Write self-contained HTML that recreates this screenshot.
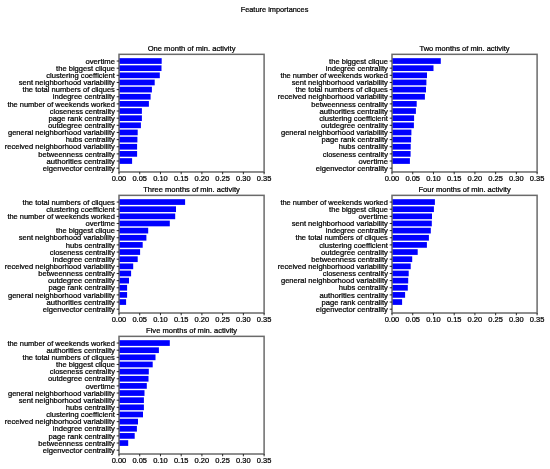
<!DOCTYPE html><html><head><meta charset="utf-8"><style>html,body{margin:0;padding:0;background:#fff;}svg{display:block;will-change:transform;}text{stroke:#000;stroke-width:0.22px;font-family:"Liberation Sans",sans-serif;fill:#000;}</style></head><body>
<svg width="550" height="469" viewBox="0 0 550 469">
<rect width="550" height="469" fill="#fff"/>
<text x="274.5" y="11.8" font-size="7" text-anchor="middle" textLength="67.67" lengthAdjust="spacingAndGlyphs">Feature importances</text>
<rect x="119" y="58.17" width="42.7" height="5.71" fill="#0000ff"/>
<rect x="119" y="65.32" width="42.5" height="5.71" fill="#0000ff"/>
<rect x="119" y="72.46" width="40.8" height="5.71" fill="#0000ff"/>
<rect x="119" y="79.6" width="35.7" height="5.71" fill="#0000ff"/>
<rect x="119" y="86.74" width="32.9" height="5.71" fill="#0000ff"/>
<rect x="119" y="93.89" width="31.6" height="5.71" fill="#0000ff"/>
<rect x="119" y="101.03" width="29.9" height="5.71" fill="#0000ff"/>
<rect x="119" y="108.17" width="22.9" height="5.71" fill="#0000ff"/>
<rect x="119" y="115.32" width="22.9" height="5.71" fill="#0000ff"/>
<rect x="119" y="122.46" width="21.9" height="5.71" fill="#0000ff"/>
<rect x="119" y="129.6" width="18.7" height="5.71" fill="#0000ff"/>
<rect x="119" y="136.75" width="18.4" height="5.71" fill="#0000ff"/>
<rect x="119" y="143.89" width="18.1" height="5.71" fill="#0000ff"/>
<rect x="119" y="151.03" width="18.1" height="5.71" fill="#0000ff"/>
<rect x="119" y="158.17" width="13.1" height="5.71" fill="#0000ff"/>
<rect x="119" y="54.33" width="145.1" height="117.65" fill="none" stroke="#6a6a6a" stroke-width="1.5"/>
<line x1="116.7" y1="61.03" x2="119" y2="61.03" stroke="#111" stroke-width="0.9"/>
<text x="114.9" y="63.73" font-size="7" text-anchor="end" textLength="29.4" lengthAdjust="spacingAndGlyphs">overtime</text>
<line x1="116.7" y1="68.17" x2="119" y2="68.17" stroke="#111" stroke-width="0.9"/>
<text x="114.9" y="70.87" font-size="7" text-anchor="end" textLength="58.8" lengthAdjust="spacingAndGlyphs">the biggest clique</text>
<line x1="116.7" y1="75.32" x2="119" y2="75.32" stroke="#111" stroke-width="0.9"/>
<text x="114.9" y="78.02" font-size="7" text-anchor="end" textLength="68.63" lengthAdjust="spacingAndGlyphs">clustering coefficient</text>
<line x1="116.7" y1="82.46" x2="119" y2="82.46" stroke="#111" stroke-width="0.9"/>
<text x="114.9" y="85.16" font-size="7" text-anchor="end" textLength="96.18" lengthAdjust="spacingAndGlyphs">sent neighborhood variability</text>
<line x1="116.7" y1="89.6" x2="119" y2="89.6" stroke="#111" stroke-width="0.9"/>
<text x="114.9" y="92.3" font-size="7" text-anchor="end" textLength="92.34" lengthAdjust="spacingAndGlyphs">the total numbers of cliques</text>
<line x1="116.7" y1="96.75" x2="119" y2="96.75" stroke="#111" stroke-width="0.9"/>
<text x="114.9" y="99.45" font-size="7" text-anchor="end" textLength="62.15" lengthAdjust="spacingAndGlyphs">indegree centrality</text>
<line x1="116.7" y1="103.89" x2="119" y2="103.89" stroke="#111" stroke-width="0.9"/>
<text x="114.9" y="106.59" font-size="7" text-anchor="end" textLength="107.49" lengthAdjust="spacingAndGlyphs">the number of weekends worked</text>
<line x1="116.7" y1="111.03" x2="119" y2="111.03" stroke="#111" stroke-width="0.9"/>
<text x="114.9" y="113.73" font-size="7" text-anchor="end" textLength="65.1" lengthAdjust="spacingAndGlyphs">closeness centrality</text>
<line x1="116.7" y1="118.17" x2="119" y2="118.17" stroke="#111" stroke-width="0.9"/>
<text x="114.9" y="120.87" font-size="7" text-anchor="end" textLength="66.32" lengthAdjust="spacingAndGlyphs">page rank centrality</text>
<line x1="116.7" y1="125.32" x2="119" y2="125.32" stroke="#111" stroke-width="0.9"/>
<text x="114.9" y="128.02" font-size="7" text-anchor="end" textLength="66.9" lengthAdjust="spacingAndGlyphs">outdegree centrality</text>
<line x1="116.7" y1="132.46" x2="119" y2="132.46" stroke="#111" stroke-width="0.9"/>
<text x="114.9" y="135.16" font-size="7" text-anchor="end" textLength="106.91" lengthAdjust="spacingAndGlyphs">general neighborhood variability</text>
<line x1="116.7" y1="139.6" x2="119" y2="139.6" stroke="#111" stroke-width="0.9"/>
<text x="114.9" y="142.3" font-size="7" text-anchor="end" textLength="49.1" lengthAdjust="spacingAndGlyphs">hubs centrality</text>
<line x1="116.7" y1="146.75" x2="119" y2="146.75" stroke="#111" stroke-width="0.9"/>
<text x="114.9" y="149.45" font-size="7" text-anchor="end" textLength="110.11" lengthAdjust="spacingAndGlyphs">received neighborhood variability</text>
<line x1="116.7" y1="153.89" x2="119" y2="153.89" stroke="#111" stroke-width="0.9"/>
<text x="114.9" y="156.59" font-size="7" text-anchor="end" textLength="76.55" lengthAdjust="spacingAndGlyphs">betweenness centrality</text>
<line x1="116.7" y1="161.03" x2="119" y2="161.03" stroke="#111" stroke-width="0.9"/>
<text x="114.9" y="163.73" font-size="7" text-anchor="end" textLength="68.46" lengthAdjust="spacingAndGlyphs">authorities centrality</text>
<line x1="116.7" y1="168.18" x2="119" y2="168.18" stroke="#111" stroke-width="0.9"/>
<text x="114.9" y="170.88" font-size="7" text-anchor="end" textLength="72.19" lengthAdjust="spacingAndGlyphs">eigenvector centrality</text>
<line x1="119" y1="171.98" x2="119" y2="174.28" stroke="#111" stroke-width="0.9"/>
<text x="119" y="180.98" font-size="7" text-anchor="middle" textLength="14.58" lengthAdjust="spacingAndGlyphs">0.00</text>
<line x1="139.73" y1="171.98" x2="139.73" y2="174.28" stroke="#111" stroke-width="0.9"/>
<text x="139.73" y="180.98" font-size="7" text-anchor="middle" textLength="14.58" lengthAdjust="spacingAndGlyphs">0.05</text>
<line x1="160.46" y1="171.98" x2="160.46" y2="174.28" stroke="#111" stroke-width="0.9"/>
<text x="160.46" y="180.98" font-size="7" text-anchor="middle" textLength="14.58" lengthAdjust="spacingAndGlyphs">0.10</text>
<line x1="181.19" y1="171.98" x2="181.19" y2="174.28" stroke="#111" stroke-width="0.9"/>
<text x="181.19" y="180.98" font-size="7" text-anchor="middle" textLength="14.58" lengthAdjust="spacingAndGlyphs">0.15</text>
<line x1="201.91" y1="171.98" x2="201.91" y2="174.28" stroke="#111" stroke-width="0.9"/>
<text x="201.91" y="180.98" font-size="7" text-anchor="middle" textLength="14.58" lengthAdjust="spacingAndGlyphs">0.20</text>
<line x1="222.64" y1="171.98" x2="222.64" y2="174.28" stroke="#111" stroke-width="0.9"/>
<text x="222.64" y="180.98" font-size="7" text-anchor="middle" textLength="14.58" lengthAdjust="spacingAndGlyphs">0.25</text>
<line x1="243.37" y1="171.98" x2="243.37" y2="174.28" stroke="#111" stroke-width="0.9"/>
<text x="243.37" y="180.98" font-size="7" text-anchor="middle" textLength="14.58" lengthAdjust="spacingAndGlyphs">0.30</text>
<line x1="264.1" y1="171.98" x2="264.1" y2="174.28" stroke="#111" stroke-width="0.9"/>
<text x="264.1" y="180.98" font-size="7" text-anchor="middle" textLength="14.58" lengthAdjust="spacingAndGlyphs">0.35</text>
<text x="191.55" y="51.13" font-size="7" text-anchor="middle" textLength="87.81" lengthAdjust="spacingAndGlyphs">One month of min. activity</text>
<rect x="392" y="58.17" width="48.8" height="5.71" fill="#0000ff"/>
<rect x="392" y="65.32" width="41.5" height="5.71" fill="#0000ff"/>
<rect x="392" y="72.46" width="35" height="5.71" fill="#0000ff"/>
<rect x="392" y="79.6" width="34.4" height="5.71" fill="#0000ff"/>
<rect x="392" y="86.74" width="34" height="5.71" fill="#0000ff"/>
<rect x="392" y="93.89" width="32.9" height="5.71" fill="#0000ff"/>
<rect x="392" y="101.03" width="24.7" height="5.71" fill="#0000ff"/>
<rect x="392" y="108.17" width="23.9" height="5.71" fill="#0000ff"/>
<rect x="392" y="115.32" width="22.1" height="5.71" fill="#0000ff"/>
<rect x="392" y="122.46" width="21.9" height="5.71" fill="#0000ff"/>
<rect x="392" y="129.6" width="19.4" height="5.71" fill="#0000ff"/>
<rect x="392" y="136.75" width="19.1" height="5.71" fill="#0000ff"/>
<rect x="392" y="143.89" width="18.7" height="5.71" fill="#0000ff"/>
<rect x="392" y="151.03" width="18.6" height="5.71" fill="#0000ff"/>
<rect x="392" y="158.17" width="17.9" height="5.71" fill="#0000ff"/>
<rect x="392" y="54.33" width="145.1" height="117.65" fill="none" stroke="#6a6a6a" stroke-width="1.5"/>
<line x1="389.7" y1="61.03" x2="392" y2="61.03" stroke="#111" stroke-width="0.9"/>
<text x="387.9" y="63.73" font-size="7" text-anchor="end" textLength="58.8" lengthAdjust="spacingAndGlyphs">the biggest clique</text>
<line x1="389.7" y1="68.17" x2="392" y2="68.17" stroke="#111" stroke-width="0.9"/>
<text x="387.9" y="70.87" font-size="7" text-anchor="end" textLength="62.15" lengthAdjust="spacingAndGlyphs">indegree centrality</text>
<line x1="389.7" y1="75.32" x2="392" y2="75.32" stroke="#111" stroke-width="0.9"/>
<text x="387.9" y="78.02" font-size="7" text-anchor="end" textLength="107.49" lengthAdjust="spacingAndGlyphs">the number of weekends worked</text>
<line x1="389.7" y1="82.46" x2="392" y2="82.46" stroke="#111" stroke-width="0.9"/>
<text x="387.9" y="85.16" font-size="7" text-anchor="end" textLength="96.18" lengthAdjust="spacingAndGlyphs">sent neighborhood variability</text>
<line x1="389.7" y1="89.6" x2="392" y2="89.6" stroke="#111" stroke-width="0.9"/>
<text x="387.9" y="92.3" font-size="7" text-anchor="end" textLength="92.34" lengthAdjust="spacingAndGlyphs">the total numbers of cliques</text>
<line x1="389.7" y1="96.75" x2="392" y2="96.75" stroke="#111" stroke-width="0.9"/>
<text x="387.9" y="99.45" font-size="7" text-anchor="end" textLength="110.11" lengthAdjust="spacingAndGlyphs">received neighborhood variability</text>
<line x1="389.7" y1="103.89" x2="392" y2="103.89" stroke="#111" stroke-width="0.9"/>
<text x="387.9" y="106.59" font-size="7" text-anchor="end" textLength="76.55" lengthAdjust="spacingAndGlyphs">betweenness centrality</text>
<line x1="389.7" y1="111.03" x2="392" y2="111.03" stroke="#111" stroke-width="0.9"/>
<text x="387.9" y="113.73" font-size="7" text-anchor="end" textLength="68.46" lengthAdjust="spacingAndGlyphs">authorities centrality</text>
<line x1="389.7" y1="118.17" x2="392" y2="118.17" stroke="#111" stroke-width="0.9"/>
<text x="387.9" y="120.87" font-size="7" text-anchor="end" textLength="68.63" lengthAdjust="spacingAndGlyphs">clustering coefficient</text>
<line x1="389.7" y1="125.32" x2="392" y2="125.32" stroke="#111" stroke-width="0.9"/>
<text x="387.9" y="128.02" font-size="7" text-anchor="end" textLength="66.9" lengthAdjust="spacingAndGlyphs">outdegree centrality</text>
<line x1="389.7" y1="132.46" x2="392" y2="132.46" stroke="#111" stroke-width="0.9"/>
<text x="387.9" y="135.16" font-size="7" text-anchor="end" textLength="106.91" lengthAdjust="spacingAndGlyphs">general neighborhood variability</text>
<line x1="389.7" y1="139.6" x2="392" y2="139.6" stroke="#111" stroke-width="0.9"/>
<text x="387.9" y="142.3" font-size="7" text-anchor="end" textLength="66.32" lengthAdjust="spacingAndGlyphs">page rank centrality</text>
<line x1="389.7" y1="146.75" x2="392" y2="146.75" stroke="#111" stroke-width="0.9"/>
<text x="387.9" y="149.45" font-size="7" text-anchor="end" textLength="49.1" lengthAdjust="spacingAndGlyphs">hubs centrality</text>
<line x1="389.7" y1="153.89" x2="392" y2="153.89" stroke="#111" stroke-width="0.9"/>
<text x="387.9" y="156.59" font-size="7" text-anchor="end" textLength="65.1" lengthAdjust="spacingAndGlyphs">closeness centrality</text>
<line x1="389.7" y1="161.03" x2="392" y2="161.03" stroke="#111" stroke-width="0.9"/>
<text x="387.9" y="163.73" font-size="7" text-anchor="end" textLength="29.4" lengthAdjust="spacingAndGlyphs">overtime</text>
<line x1="389.7" y1="168.18" x2="392" y2="168.18" stroke="#111" stroke-width="0.9"/>
<text x="387.9" y="170.88" font-size="7" text-anchor="end" textLength="72.19" lengthAdjust="spacingAndGlyphs">eigenvector centrality</text>
<line x1="392" y1="171.98" x2="392" y2="174.28" stroke="#111" stroke-width="0.9"/>
<text x="392" y="180.98" font-size="7" text-anchor="middle" textLength="14.58" lengthAdjust="spacingAndGlyphs">0.00</text>
<line x1="412.73" y1="171.98" x2="412.73" y2="174.28" stroke="#111" stroke-width="0.9"/>
<text x="412.73" y="180.98" font-size="7" text-anchor="middle" textLength="14.58" lengthAdjust="spacingAndGlyphs">0.05</text>
<line x1="433.46" y1="171.98" x2="433.46" y2="174.28" stroke="#111" stroke-width="0.9"/>
<text x="433.46" y="180.98" font-size="7" text-anchor="middle" textLength="14.58" lengthAdjust="spacingAndGlyphs">0.10</text>
<line x1="454.19" y1="171.98" x2="454.19" y2="174.28" stroke="#111" stroke-width="0.9"/>
<text x="454.19" y="180.98" font-size="7" text-anchor="middle" textLength="14.58" lengthAdjust="spacingAndGlyphs">0.15</text>
<line x1="474.91" y1="171.98" x2="474.91" y2="174.28" stroke="#111" stroke-width="0.9"/>
<text x="474.91" y="180.98" font-size="7" text-anchor="middle" textLength="14.58" lengthAdjust="spacingAndGlyphs">0.20</text>
<line x1="495.64" y1="171.98" x2="495.64" y2="174.28" stroke="#111" stroke-width="0.9"/>
<text x="495.64" y="180.98" font-size="7" text-anchor="middle" textLength="14.58" lengthAdjust="spacingAndGlyphs">0.25</text>
<line x1="516.37" y1="171.98" x2="516.37" y2="174.28" stroke="#111" stroke-width="0.9"/>
<text x="516.37" y="180.98" font-size="7" text-anchor="middle" textLength="14.58" lengthAdjust="spacingAndGlyphs">0.30</text>
<line x1="537.1" y1="171.98" x2="537.1" y2="174.28" stroke="#111" stroke-width="0.9"/>
<text x="537.1" y="180.98" font-size="7" text-anchor="middle" textLength="14.58" lengthAdjust="spacingAndGlyphs">0.35</text>
<text x="464.55" y="51.13" font-size="7" text-anchor="middle" textLength="90.17" lengthAdjust="spacingAndGlyphs">Two months of min. activity</text>
<rect x="119" y="199.19" width="66.1" height="5.71" fill="#0000ff"/>
<rect x="119" y="206.34" width="57" height="5.71" fill="#0000ff"/>
<rect x="119" y="213.48" width="56.2" height="5.71" fill="#0000ff"/>
<rect x="119" y="220.62" width="50.8" height="5.71" fill="#0000ff"/>
<rect x="119" y="227.76" width="29.2" height="5.71" fill="#0000ff"/>
<rect x="119" y="234.91" width="27.4" height="5.71" fill="#0000ff"/>
<rect x="119" y="242.05" width="23.7" height="5.71" fill="#0000ff"/>
<rect x="119" y="249.19" width="21.1" height="5.71" fill="#0000ff"/>
<rect x="119" y="256.34" width="18.7" height="5.71" fill="#0000ff"/>
<rect x="119" y="263.48" width="14.2" height="5.71" fill="#0000ff"/>
<rect x="119" y="270.62" width="12.1" height="5.71" fill="#0000ff"/>
<rect x="119" y="277.77" width="10" height="5.71" fill="#0000ff"/>
<rect x="119" y="284.91" width="8.1" height="5.71" fill="#0000ff"/>
<rect x="119" y="292.05" width="8.1" height="5.71" fill="#0000ff"/>
<rect x="119" y="299.19" width="7.1" height="5.71" fill="#0000ff"/>
<rect x="119" y="195.35" width="145.1" height="117.65" fill="none" stroke="#6a6a6a" stroke-width="1.5"/>
<line x1="116.7" y1="202.05" x2="119" y2="202.05" stroke="#111" stroke-width="0.9"/>
<text x="114.9" y="204.75" font-size="7" text-anchor="end" textLength="92.34" lengthAdjust="spacingAndGlyphs">the total numbers of cliques</text>
<line x1="116.7" y1="209.19" x2="119" y2="209.19" stroke="#111" stroke-width="0.9"/>
<text x="114.9" y="211.89" font-size="7" text-anchor="end" textLength="68.63" lengthAdjust="spacingAndGlyphs">clustering coefficient</text>
<line x1="116.7" y1="216.34" x2="119" y2="216.34" stroke="#111" stroke-width="0.9"/>
<text x="114.9" y="219.04" font-size="7" text-anchor="end" textLength="107.49" lengthAdjust="spacingAndGlyphs">the number of weekends worked</text>
<line x1="116.7" y1="223.48" x2="119" y2="223.48" stroke="#111" stroke-width="0.9"/>
<text x="114.9" y="226.18" font-size="7" text-anchor="end" textLength="29.4" lengthAdjust="spacingAndGlyphs">overtime</text>
<line x1="116.7" y1="230.62" x2="119" y2="230.62" stroke="#111" stroke-width="0.9"/>
<text x="114.9" y="233.32" font-size="7" text-anchor="end" textLength="58.8" lengthAdjust="spacingAndGlyphs">the biggest clique</text>
<line x1="116.7" y1="237.76" x2="119" y2="237.76" stroke="#111" stroke-width="0.9"/>
<text x="114.9" y="240.46" font-size="7" text-anchor="end" textLength="96.18" lengthAdjust="spacingAndGlyphs">sent neighborhood variability</text>
<line x1="116.7" y1="244.91" x2="119" y2="244.91" stroke="#111" stroke-width="0.9"/>
<text x="114.9" y="247.61" font-size="7" text-anchor="end" textLength="49.1" lengthAdjust="spacingAndGlyphs">hubs centrality</text>
<line x1="116.7" y1="252.05" x2="119" y2="252.05" stroke="#111" stroke-width="0.9"/>
<text x="114.9" y="254.75" font-size="7" text-anchor="end" textLength="65.1" lengthAdjust="spacingAndGlyphs">closeness centrality</text>
<line x1="116.7" y1="259.19" x2="119" y2="259.19" stroke="#111" stroke-width="0.9"/>
<text x="114.9" y="261.89" font-size="7" text-anchor="end" textLength="62.15" lengthAdjust="spacingAndGlyphs">indegree centrality</text>
<line x1="116.7" y1="266.34" x2="119" y2="266.34" stroke="#111" stroke-width="0.9"/>
<text x="114.9" y="269.04" font-size="7" text-anchor="end" textLength="110.11" lengthAdjust="spacingAndGlyphs">received neighborhood variability</text>
<line x1="116.7" y1="273.48" x2="119" y2="273.48" stroke="#111" stroke-width="0.9"/>
<text x="114.9" y="276.18" font-size="7" text-anchor="end" textLength="76.55" lengthAdjust="spacingAndGlyphs">betweenness centrality</text>
<line x1="116.7" y1="280.62" x2="119" y2="280.62" stroke="#111" stroke-width="0.9"/>
<text x="114.9" y="283.32" font-size="7" text-anchor="end" textLength="66.9" lengthAdjust="spacingAndGlyphs">outdegree centrality</text>
<line x1="116.7" y1="287.77" x2="119" y2="287.77" stroke="#111" stroke-width="0.9"/>
<text x="114.9" y="290.47" font-size="7" text-anchor="end" textLength="66.32" lengthAdjust="spacingAndGlyphs">page rank centrality</text>
<line x1="116.7" y1="294.91" x2="119" y2="294.91" stroke="#111" stroke-width="0.9"/>
<text x="114.9" y="297.61" font-size="7" text-anchor="end" textLength="106.91" lengthAdjust="spacingAndGlyphs">general neighborhood variability</text>
<line x1="116.7" y1="302.05" x2="119" y2="302.05" stroke="#111" stroke-width="0.9"/>
<text x="114.9" y="304.75" font-size="7" text-anchor="end" textLength="68.46" lengthAdjust="spacingAndGlyphs">authorities centrality</text>
<line x1="116.7" y1="309.19" x2="119" y2="309.19" stroke="#111" stroke-width="0.9"/>
<text x="114.9" y="311.89" font-size="7" text-anchor="end" textLength="72.19" lengthAdjust="spacingAndGlyphs">eigenvector centrality</text>
<line x1="119" y1="313" x2="119" y2="315.3" stroke="#111" stroke-width="0.9"/>
<text x="119" y="322" font-size="7" text-anchor="middle" textLength="14.58" lengthAdjust="spacingAndGlyphs">0.00</text>
<line x1="139.73" y1="313" x2="139.73" y2="315.3" stroke="#111" stroke-width="0.9"/>
<text x="139.73" y="322" font-size="7" text-anchor="middle" textLength="14.58" lengthAdjust="spacingAndGlyphs">0.05</text>
<line x1="160.46" y1="313" x2="160.46" y2="315.3" stroke="#111" stroke-width="0.9"/>
<text x="160.46" y="322" font-size="7" text-anchor="middle" textLength="14.58" lengthAdjust="spacingAndGlyphs">0.10</text>
<line x1="181.19" y1="313" x2="181.19" y2="315.3" stroke="#111" stroke-width="0.9"/>
<text x="181.19" y="322" font-size="7" text-anchor="middle" textLength="14.58" lengthAdjust="spacingAndGlyphs">0.15</text>
<line x1="201.91" y1="313" x2="201.91" y2="315.3" stroke="#111" stroke-width="0.9"/>
<text x="201.91" y="322" font-size="7" text-anchor="middle" textLength="14.58" lengthAdjust="spacingAndGlyphs">0.20</text>
<line x1="222.64" y1="313" x2="222.64" y2="315.3" stroke="#111" stroke-width="0.9"/>
<text x="222.64" y="322" font-size="7" text-anchor="middle" textLength="14.58" lengthAdjust="spacingAndGlyphs">0.25</text>
<line x1="243.37" y1="313" x2="243.37" y2="315.3" stroke="#111" stroke-width="0.9"/>
<text x="243.37" y="322" font-size="7" text-anchor="middle" textLength="14.58" lengthAdjust="spacingAndGlyphs">0.30</text>
<line x1="264.1" y1="313" x2="264.1" y2="315.3" stroke="#111" stroke-width="0.9"/>
<text x="264.1" y="322" font-size="7" text-anchor="middle" textLength="14.58" lengthAdjust="spacingAndGlyphs">0.35</text>
<text x="191.55" y="192.15" font-size="7" text-anchor="middle" textLength="96.65" lengthAdjust="spacingAndGlyphs">Three months of min. activity</text>
<rect x="392" y="199.19" width="42.9" height="5.71" fill="#0000ff"/>
<rect x="392" y="206.34" width="41.9" height="5.71" fill="#0000ff"/>
<rect x="392" y="213.48" width="40" height="5.71" fill="#0000ff"/>
<rect x="392" y="220.62" width="39.8" height="5.71" fill="#0000ff"/>
<rect x="392" y="227.76" width="38.8" height="5.71" fill="#0000ff"/>
<rect x="392" y="234.91" width="36.9" height="5.71" fill="#0000ff"/>
<rect x="392" y="242.05" width="34.9" height="5.71" fill="#0000ff"/>
<rect x="392" y="249.19" width="25.7" height="5.71" fill="#0000ff"/>
<rect x="392" y="256.34" width="20.2" height="5.71" fill="#0000ff"/>
<rect x="392" y="263.48" width="18.7" height="5.71" fill="#0000ff"/>
<rect x="392" y="270.62" width="16.7" height="5.71" fill="#0000ff"/>
<rect x="392" y="277.77" width="16.2" height="5.71" fill="#0000ff"/>
<rect x="392" y="284.91" width="15.8" height="5.71" fill="#0000ff"/>
<rect x="392" y="292.05" width="13.1" height="5.71" fill="#0000ff"/>
<rect x="392" y="299.19" width="10.1" height="5.71" fill="#0000ff"/>
<rect x="392" y="195.35" width="145.1" height="117.65" fill="none" stroke="#6a6a6a" stroke-width="1.5"/>
<line x1="389.7" y1="202.05" x2="392" y2="202.05" stroke="#111" stroke-width="0.9"/>
<text x="387.9" y="204.75" font-size="7" text-anchor="end" textLength="107.49" lengthAdjust="spacingAndGlyphs">the number of weekends worked</text>
<line x1="389.7" y1="209.19" x2="392" y2="209.19" stroke="#111" stroke-width="0.9"/>
<text x="387.9" y="211.89" font-size="7" text-anchor="end" textLength="58.8" lengthAdjust="spacingAndGlyphs">the biggest clique</text>
<line x1="389.7" y1="216.34" x2="392" y2="216.34" stroke="#111" stroke-width="0.9"/>
<text x="387.9" y="219.04" font-size="7" text-anchor="end" textLength="29.4" lengthAdjust="spacingAndGlyphs">overtime</text>
<line x1="389.7" y1="223.48" x2="392" y2="223.48" stroke="#111" stroke-width="0.9"/>
<text x="387.9" y="226.18" font-size="7" text-anchor="end" textLength="96.18" lengthAdjust="spacingAndGlyphs">sent neighborhood variability</text>
<line x1="389.7" y1="230.62" x2="392" y2="230.62" stroke="#111" stroke-width="0.9"/>
<text x="387.9" y="233.32" font-size="7" text-anchor="end" textLength="62.15" lengthAdjust="spacingAndGlyphs">indegree centrality</text>
<line x1="389.7" y1="237.76" x2="392" y2="237.76" stroke="#111" stroke-width="0.9"/>
<text x="387.9" y="240.46" font-size="7" text-anchor="end" textLength="92.34" lengthAdjust="spacingAndGlyphs">the total numbers of cliques</text>
<line x1="389.7" y1="244.91" x2="392" y2="244.91" stroke="#111" stroke-width="0.9"/>
<text x="387.9" y="247.61" font-size="7" text-anchor="end" textLength="68.63" lengthAdjust="spacingAndGlyphs">clustering coefficient</text>
<line x1="389.7" y1="252.05" x2="392" y2="252.05" stroke="#111" stroke-width="0.9"/>
<text x="387.9" y="254.75" font-size="7" text-anchor="end" textLength="66.9" lengthAdjust="spacingAndGlyphs">outdegree centrality</text>
<line x1="389.7" y1="259.19" x2="392" y2="259.19" stroke="#111" stroke-width="0.9"/>
<text x="387.9" y="261.89" font-size="7" text-anchor="end" textLength="76.55" lengthAdjust="spacingAndGlyphs">betweenness centrality</text>
<line x1="389.7" y1="266.34" x2="392" y2="266.34" stroke="#111" stroke-width="0.9"/>
<text x="387.9" y="269.04" font-size="7" text-anchor="end" textLength="110.11" lengthAdjust="spacingAndGlyphs">received neighborhood variability</text>
<line x1="389.7" y1="273.48" x2="392" y2="273.48" stroke="#111" stroke-width="0.9"/>
<text x="387.9" y="276.18" font-size="7" text-anchor="end" textLength="65.1" lengthAdjust="spacingAndGlyphs">closeness centrality</text>
<line x1="389.7" y1="280.62" x2="392" y2="280.62" stroke="#111" stroke-width="0.9"/>
<text x="387.9" y="283.32" font-size="7" text-anchor="end" textLength="106.91" lengthAdjust="spacingAndGlyphs">general neighborhood variability</text>
<line x1="389.7" y1="287.77" x2="392" y2="287.77" stroke="#111" stroke-width="0.9"/>
<text x="387.9" y="290.47" font-size="7" text-anchor="end" textLength="49.1" lengthAdjust="spacingAndGlyphs">hubs centrality</text>
<line x1="389.7" y1="294.91" x2="392" y2="294.91" stroke="#111" stroke-width="0.9"/>
<text x="387.9" y="297.61" font-size="7" text-anchor="end" textLength="68.46" lengthAdjust="spacingAndGlyphs">authorities centrality</text>
<line x1="389.7" y1="302.05" x2="392" y2="302.05" stroke="#111" stroke-width="0.9"/>
<text x="387.9" y="304.75" font-size="7" text-anchor="end" textLength="66.32" lengthAdjust="spacingAndGlyphs">page rank centrality</text>
<line x1="389.7" y1="309.19" x2="392" y2="309.19" stroke="#111" stroke-width="0.9"/>
<text x="387.9" y="311.89" font-size="7" text-anchor="end" textLength="72.19" lengthAdjust="spacingAndGlyphs">eigenvector centrality</text>
<line x1="392" y1="313" x2="392" y2="315.3" stroke="#111" stroke-width="0.9"/>
<text x="392" y="322" font-size="7" text-anchor="middle" textLength="14.58" lengthAdjust="spacingAndGlyphs">0.00</text>
<line x1="412.73" y1="313" x2="412.73" y2="315.3" stroke="#111" stroke-width="0.9"/>
<text x="412.73" y="322" font-size="7" text-anchor="middle" textLength="14.58" lengthAdjust="spacingAndGlyphs">0.05</text>
<line x1="433.46" y1="313" x2="433.46" y2="315.3" stroke="#111" stroke-width="0.9"/>
<text x="433.46" y="322" font-size="7" text-anchor="middle" textLength="14.58" lengthAdjust="spacingAndGlyphs">0.10</text>
<line x1="454.19" y1="313" x2="454.19" y2="315.3" stroke="#111" stroke-width="0.9"/>
<text x="454.19" y="322" font-size="7" text-anchor="middle" textLength="14.58" lengthAdjust="spacingAndGlyphs">0.15</text>
<line x1="474.91" y1="313" x2="474.91" y2="315.3" stroke="#111" stroke-width="0.9"/>
<text x="474.91" y="322" font-size="7" text-anchor="middle" textLength="14.58" lengthAdjust="spacingAndGlyphs">0.20</text>
<line x1="495.64" y1="313" x2="495.64" y2="315.3" stroke="#111" stroke-width="0.9"/>
<text x="495.64" y="322" font-size="7" text-anchor="middle" textLength="14.58" lengthAdjust="spacingAndGlyphs">0.25</text>
<line x1="516.37" y1="313" x2="516.37" y2="315.3" stroke="#111" stroke-width="0.9"/>
<text x="516.37" y="322" font-size="7" text-anchor="middle" textLength="14.58" lengthAdjust="spacingAndGlyphs">0.30</text>
<line x1="537.1" y1="313" x2="537.1" y2="315.3" stroke="#111" stroke-width="0.9"/>
<text x="537.1" y="322" font-size="7" text-anchor="middle" textLength="14.58" lengthAdjust="spacingAndGlyphs">0.35</text>
<text x="464.55" y="192.15" font-size="7" text-anchor="middle" textLength="92.28" lengthAdjust="spacingAndGlyphs">Four months of min. activity</text>
<rect x="119" y="340.19" width="50.8" height="5.71" fill="#0000ff"/>
<rect x="119" y="347.34" width="39.9" height="5.71" fill="#0000ff"/>
<rect x="119" y="354.48" width="36.5" height="5.71" fill="#0000ff"/>
<rect x="119" y="361.62" width="33.7" height="5.71" fill="#0000ff"/>
<rect x="119" y="368.76" width="29.8" height="5.71" fill="#0000ff"/>
<rect x="119" y="375.91" width="29.5" height="5.71" fill="#0000ff"/>
<rect x="119" y="383.05" width="27.8" height="5.71" fill="#0000ff"/>
<rect x="119" y="390.19" width="25.5" height="5.71" fill="#0000ff"/>
<rect x="119" y="397.34" width="24.9" height="5.71" fill="#0000ff"/>
<rect x="119" y="404.48" width="24.9" height="5.71" fill="#0000ff"/>
<rect x="119" y="411.62" width="24" height="5.71" fill="#0000ff"/>
<rect x="119" y="418.77" width="19" height="5.71" fill="#0000ff"/>
<rect x="119" y="425.91" width="17.9" height="5.71" fill="#0000ff"/>
<rect x="119" y="433.05" width="15.7" height="5.71" fill="#0000ff"/>
<rect x="119" y="440.19" width="9.2" height="5.71" fill="#0000ff"/>
<rect x="119" y="336.35" width="145.1" height="117.65" fill="none" stroke="#6a6a6a" stroke-width="1.5"/>
<line x1="116.7" y1="343.05" x2="119" y2="343.05" stroke="#111" stroke-width="0.9"/>
<text x="114.9" y="345.75" font-size="7" text-anchor="end" textLength="107.49" lengthAdjust="spacingAndGlyphs">the number of weekends worked</text>
<line x1="116.7" y1="350.19" x2="119" y2="350.19" stroke="#111" stroke-width="0.9"/>
<text x="114.9" y="352.89" font-size="7" text-anchor="end" textLength="68.46" lengthAdjust="spacingAndGlyphs">authorities centrality</text>
<line x1="116.7" y1="357.34" x2="119" y2="357.34" stroke="#111" stroke-width="0.9"/>
<text x="114.9" y="360.04" font-size="7" text-anchor="end" textLength="92.34" lengthAdjust="spacingAndGlyphs">the total numbers of cliques</text>
<line x1="116.7" y1="364.48" x2="119" y2="364.48" stroke="#111" stroke-width="0.9"/>
<text x="114.9" y="367.18" font-size="7" text-anchor="end" textLength="58.8" lengthAdjust="spacingAndGlyphs">the biggest clique</text>
<line x1="116.7" y1="371.62" x2="119" y2="371.62" stroke="#111" stroke-width="0.9"/>
<text x="114.9" y="374.32" font-size="7" text-anchor="end" textLength="65.1" lengthAdjust="spacingAndGlyphs">closeness centrality</text>
<line x1="116.7" y1="378.76" x2="119" y2="378.76" stroke="#111" stroke-width="0.9"/>
<text x="114.9" y="381.46" font-size="7" text-anchor="end" textLength="66.9" lengthAdjust="spacingAndGlyphs">outdegree centrality</text>
<line x1="116.7" y1="385.91" x2="119" y2="385.91" stroke="#111" stroke-width="0.9"/>
<text x="114.9" y="388.61" font-size="7" text-anchor="end" textLength="29.4" lengthAdjust="spacingAndGlyphs">overtime</text>
<line x1="116.7" y1="393.05" x2="119" y2="393.05" stroke="#111" stroke-width="0.9"/>
<text x="114.9" y="395.75" font-size="7" text-anchor="end" textLength="106.91" lengthAdjust="spacingAndGlyphs">general neighborhood variability</text>
<line x1="116.7" y1="400.19" x2="119" y2="400.19" stroke="#111" stroke-width="0.9"/>
<text x="114.9" y="402.89" font-size="7" text-anchor="end" textLength="96.18" lengthAdjust="spacingAndGlyphs">sent neighborhood variability</text>
<line x1="116.7" y1="407.34" x2="119" y2="407.34" stroke="#111" stroke-width="0.9"/>
<text x="114.9" y="410.04" font-size="7" text-anchor="end" textLength="49.1" lengthAdjust="spacingAndGlyphs">hubs centrality</text>
<line x1="116.7" y1="414.48" x2="119" y2="414.48" stroke="#111" stroke-width="0.9"/>
<text x="114.9" y="417.18" font-size="7" text-anchor="end" textLength="68.63" lengthAdjust="spacingAndGlyphs">clustering coefficient</text>
<line x1="116.7" y1="421.62" x2="119" y2="421.62" stroke="#111" stroke-width="0.9"/>
<text x="114.9" y="424.32" font-size="7" text-anchor="end" textLength="110.11" lengthAdjust="spacingAndGlyphs">received neighborhood variability</text>
<line x1="116.7" y1="428.77" x2="119" y2="428.77" stroke="#111" stroke-width="0.9"/>
<text x="114.9" y="431.47" font-size="7" text-anchor="end" textLength="62.15" lengthAdjust="spacingAndGlyphs">indegree centrality</text>
<line x1="116.7" y1="435.91" x2="119" y2="435.91" stroke="#111" stroke-width="0.9"/>
<text x="114.9" y="438.61" font-size="7" text-anchor="end" textLength="66.32" lengthAdjust="spacingAndGlyphs">page rank centrality</text>
<line x1="116.7" y1="443.05" x2="119" y2="443.05" stroke="#111" stroke-width="0.9"/>
<text x="114.9" y="445.75" font-size="7" text-anchor="end" textLength="76.55" lengthAdjust="spacingAndGlyphs">betweenness centrality</text>
<line x1="116.7" y1="450.19" x2="119" y2="450.19" stroke="#111" stroke-width="0.9"/>
<text x="114.9" y="452.89" font-size="7" text-anchor="end" textLength="72.19" lengthAdjust="spacingAndGlyphs">eigenvector centrality</text>
<line x1="119" y1="454" x2="119" y2="456.3" stroke="#111" stroke-width="0.9"/>
<text x="119" y="463" font-size="7" text-anchor="middle" textLength="14.58" lengthAdjust="spacingAndGlyphs">0.00</text>
<line x1="139.73" y1="454" x2="139.73" y2="456.3" stroke="#111" stroke-width="0.9"/>
<text x="139.73" y="463" font-size="7" text-anchor="middle" textLength="14.58" lengthAdjust="spacingAndGlyphs">0.05</text>
<line x1="160.46" y1="454" x2="160.46" y2="456.3" stroke="#111" stroke-width="0.9"/>
<text x="160.46" y="463" font-size="7" text-anchor="middle" textLength="14.58" lengthAdjust="spacingAndGlyphs">0.10</text>
<line x1="181.19" y1="454" x2="181.19" y2="456.3" stroke="#111" stroke-width="0.9"/>
<text x="181.19" y="463" font-size="7" text-anchor="middle" textLength="14.58" lengthAdjust="spacingAndGlyphs">0.15</text>
<line x1="201.91" y1="454" x2="201.91" y2="456.3" stroke="#111" stroke-width="0.9"/>
<text x="201.91" y="463" font-size="7" text-anchor="middle" textLength="14.58" lengthAdjust="spacingAndGlyphs">0.20</text>
<line x1="222.64" y1="454" x2="222.64" y2="456.3" stroke="#111" stroke-width="0.9"/>
<text x="222.64" y="463" font-size="7" text-anchor="middle" textLength="14.58" lengthAdjust="spacingAndGlyphs">0.25</text>
<line x1="243.37" y1="454" x2="243.37" y2="456.3" stroke="#111" stroke-width="0.9"/>
<text x="243.37" y="463" font-size="7" text-anchor="middle" textLength="14.58" lengthAdjust="spacingAndGlyphs">0.30</text>
<line x1="264.1" y1="454" x2="264.1" y2="456.3" stroke="#111" stroke-width="0.9"/>
<text x="264.1" y="463" font-size="7" text-anchor="middle" textLength="14.58" lengthAdjust="spacingAndGlyphs">0.35</text>
<text x="191.55" y="333.15" font-size="7" text-anchor="middle" textLength="90.91" lengthAdjust="spacingAndGlyphs">Five months of min. activity</text>
</svg></body></html>
